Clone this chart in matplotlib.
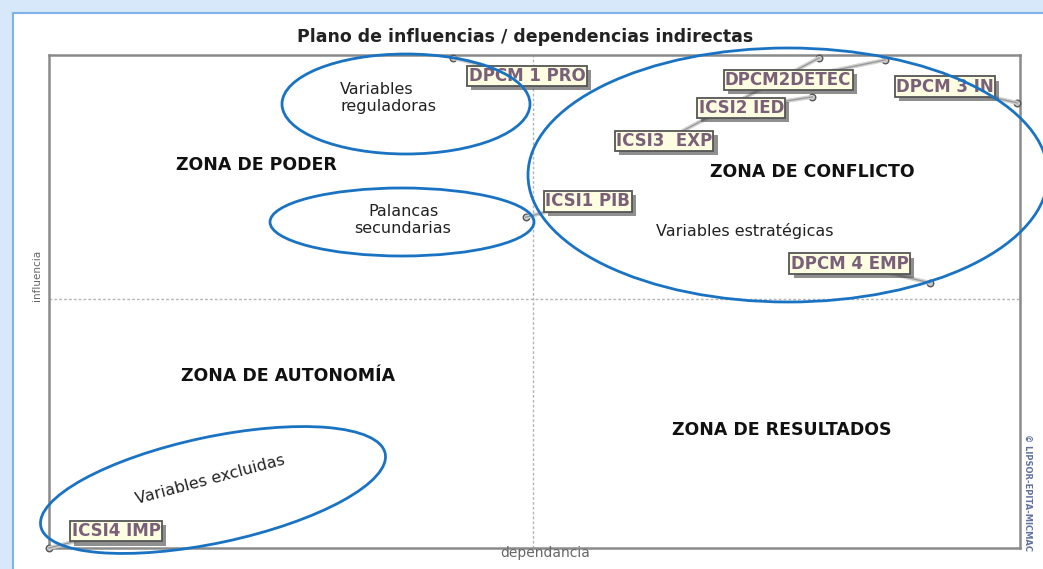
import numpy as np
import matplotlib.pyplot as plt
from matplotlib.patches import Ellipse, Rectangle
import matplotlib.patheffects as pe

# variables (dependencia, influencia), escala 0-100
names = ['DPCM 1 PRO', 'ICSI3  EXP', 'DPCM2DETEC', 'ICSI2 IED', 'DPCM 3 IN',
         'ICSI1 PIB', 'DPCM 4 EMP', 'ICSI4 IMP']
dep = [41.6, 79.3, 86.1, 78.6, 99.7, 49.1, 90.7, 0.0]
inf = [99.4, 99.4, 99.0, 91.5, 90.3, 67.1, 53.8, 0.0]
x_mid, y_mid = 49.8, 50.5

# label centre relative to its point, in screen pixels (y down)
offs = [(74, 18), (-155, 83), (-97, 20), (-71, 11), (-72, -16),
        (62, -16), (-80, -19), (67, -17)]

W, H = 1043, 569
fig = plt.figure(figsize=(W / 100, H / 100), dpi=100)
fig.patch.set_facecolor('white')

# window frame of the screenshot
fig.patches.append(Rectangle((0, 1 - 13 / H), 1, 13 / H, transform=fig.transFigure,
                             facecolor='#d6e8fa', edgecolor='none', zorder=0))
fig.patches.append(Rectangle((0, 0), 13 / W, 1, transform=fig.transFigure,
                             facecolor='#d6e8fa', edgecolor='none', zorder=0))
fig.lines.append(plt.Line2D([13 / W, 13 / W], [0, 1 - 13 / H], transform=fig.transFigure,
                            color='#7fb2e6', lw=1.5))
fig.lines.append(plt.Line2D([13 / W, 1], [1 - 13 / H, 1 - 13 / H], transform=fig.transFigure,
                            color='#7fb2e6', lw=1.5))

L, R, T, B = 49, 1020, 55, 548
ax = fig.add_axes([L / W, 1 - B / H, (R - L) / W, (B - T) / H])
ax.set_xlim(0, 100)
ax.set_ylim(0, 100)
ax.set_xticks([])
ax.set_yticks([])
for s in ax.spines.values():
    s.set_color('#8a8a8a')
    s.set_linewidth(1.8)

ax.axvline(x_mid, color='#b5b5b5', lw=1, ls=(0, (2, 1.5)))
ax.axhline(y_mid, color='#b5b5b5', lw=1, ls=(0, (2, 1.5)))

ax.scatter(dep, inf, s=22, facecolor='#c8c8c8', edgecolor='#555555', lw=1,
           zorder=5, clip_on=False)

fig.text(525 / W, 1 - 37 / H, 'Plano de influencias / dependencias indirectas',
         ha='center', va='center', fontsize=12.5, fontweight='bold',
         family='DejaVu Sans', color='#222222')
fig.text(545 / W, 1 - 553 / H, 'dependancia', ha='center', va='center',
         fontsize=10, color='#666666')
fig.text(37 / W, 1 - 275 / H, 'influencia', ha='center', va='center', rotation=90,
         fontsize=7.5, color='#666666')
fig.text(1028 / W, 1 - 492 / H, '© LIPSOR-EPITA-MICMAC', ha='center', va='center',
         rotation=-90, fontsize=6, fontweight='bold', color='#6070a0')

# overlay in pixel coordinates (y down) for labels, zones and ellipses
ov = fig.add_axes([0, 0, 1, 1], facecolor='none')
ov.set_xlim(0, W)
ov.set_ylim(H, 0)
ov.axis('off')

# MICMAC style labels in a cream box with shadow
for n, x, y, (dx, dy) in zip(names, dep, inf, offs):
    px, py = ax.transData.transform((x, y))
    py = H - py
    cx, cy = px + dx, py + dy
    ov.plot([cx, px], [cy, py], color='#d2d2d2', lw=3, zorder=3, solid_capstyle='butt')
    ov.plot([cx, px], [cy, py], color='#9a9a9a', lw=1, zorder=3)
    ov.text(cx, cy, n, ha='center', va='center', fontsize=12, family='DejaVu Sans',
            fontweight='bold', color='#7a5f78', zorder=8,
            bbox=dict(boxstyle='square,pad=0.08', fc='#fdfde2', ec='#555555', lw=1.3,
                      path_effects=[pe.withSimplePatchShadow(offset=(3, -3),
                                                             shadow_rgbFace='#444444', alpha=0.6)]))

zones = [('ZONA DE PODER', 256, 165), ('ZONA DE CONFLICTO', 812, 172),
         ('ZONA DE AUTONOMÍA', 288, 376), ('ZONA DE RESULTADOS', 782, 430)]
for t, x, y in zones:
    ov.text(x, y, t, ha='center', va='center', fontsize=12.5, fontweight='bold',
            family='DejaVu Sans', color='#111111')

notes = [('Variables\nreguladoras', 340, 98, 0, 'left'),
         ('Palancas\nsecundarias', 403, 220, 0, 'center'),
         ('Variables estratégicas', 745, 231, 0, 'center'),
         ('Variables excluidas', 210, 480, 15, 'center')]
for t, x, y, r, ha in notes:
    ov.text(x, y, t, ha=ha, va='center', fontsize=11.5, family='DejaVu Sans',
            color='#222222', rotation=r, linespacing=1.2, multialignment=ha,
            rotation_mode='anchor')

ellipses = [(406, 104, 248, 100, 0), (402, 222, 264, 68, 0),
            (788, 175, 520, 254, 0), (213, 490, 352, 106, 12)]
for cx, cy, w, h, a in ellipses:
    ov.add_patch(Ellipse((cx, cy), w, h, angle=-a, fill=False, ec='#1a73c2', lw=2,
                         clip_on=False, zorder=9))

fig.savefig('out.png', dpi=100)
